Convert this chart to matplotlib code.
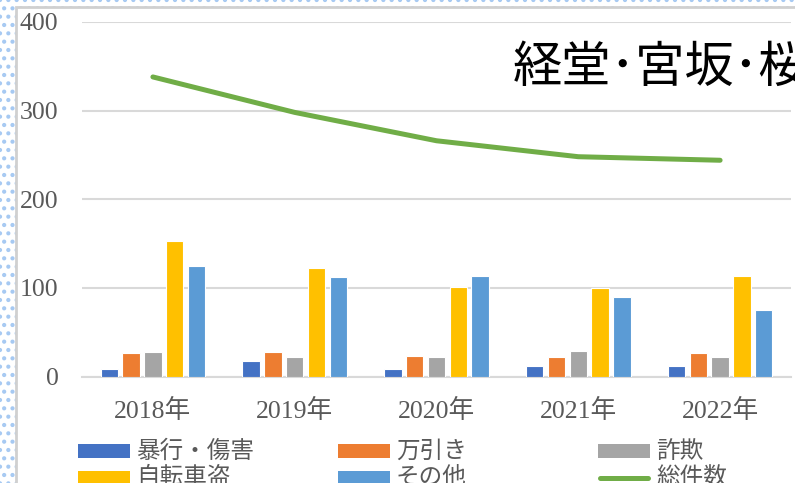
import matplotlib.pyplot as plt
import numpy as np
from matplotlib.patches import Rectangle
from matplotlib.lines import Line2D

# data
years = ["2018年", "2019年", "2020年", "2021年", "2022年"]
violence = [9, 18, 8, 12, 12]        # 暴行・傷害
shoplifting = [26, 28, 23, 22, 26]   # 万引き
fraud = [28, 22, 22, 29, 22]         # 詐欺
bicycle = [153, 122, 101, 100, 113]  # 自転車盗
other = [125, 112, 113, 90, 75]      # その他
total = [338, 298, 266, 248, 244]    # 総件数

bar_series = [violence, shoplifting, fraud, bicycle, other]
bar_names = ["暴行・傷害", "万引き", "詐欺", "自転車盗", "その他"]
bar_colors = ["#4472C4", "#ED7D31", "#A5A5A5", "#FFC000", "#5B9BD5"]
line_color = "#70AD47"

W, H = 795, 483
plt.rcParams["hatch.linewidth"] = 1.8
fig = plt.figure(figsize=(W / 100, H / 100), dpi=100)

def fx(px):
    return px / W

def fy(py):
    return 1 - py / H

# dotted blue pattern around the chart area
fig.patches.append(Rectangle((0, 0), 1, 1, transform=fig.transFigure,
                             facecolor="white", edgecolor="#a6c9f2",
                             hatch="..", linewidth=0, zorder=0))
fig.patches.append(Rectangle((fx(16), -0.1), 1.2, fy(7) + 0.1,
                             transform=fig.transFigure, facecolor="white",
                             edgecolor="#d0d0d0", linewidth=2, zorder=1))

serif = ["Liberation Serif", "Noto Sans CJK JP"]
jp = ["Noto Sans CJK JP", "DejaVu Sans"]
gray = "#595959"

ax = fig.add_axes([fx(82), fy(376.5), fx(791) - fx(82), fy(22) - fy(376.5)])
ax.set_zorder(3)
ax.set_facecolor("none")
x = np.arange(len(years))
pitch = 0.154
width = 0.123
for i, (vals, col) in enumerate(zip(bar_series, bar_colors)):
    ax.bar(x + (i - 2) * pitch, vals, width, color=col,
           edgecolor="white", linewidth=0.8, zorder=3)
ax.plot(x, total, color=line_color, linewidth=3.6,
        solid_capstyle="round", zorder=4)

ax.set_xlim(-0.5, 4.5)
ax.set_ylim(0, 400)
ax.set_yticks([0, 100, 200, 300, 400])
ax.set_xticks(x)
ax.set_xticklabels(years)
ax.grid(axis="y", color="#d9d9d9", linewidth=1.5, zorder=0)
for s in ["top", "right", "left"]:
    ax.spines[s].set_visible(False)
ax.spines["bottom"].set_color("#d9d9d9")
ax.spines["bottom"].set_linewidth(1.5)
ax.tick_params(length=0)
ax.tick_params(axis="y", pad=17)
ax.tick_params(axis="x", pad=16)
for lab in ax.get_xticklabels() + ax.get_yticklabels():
    lab.set_family(serif)
    lab.set_fontsize(18.5)
    lab.set_color(gray)

fig.text(fx(513), fy(68), "経堂･宮坂･桜", family=jp, fontsize=35.5,
         color="black", ha="left", va="center", zorder=5)

# legend laid out like Excel: 3 evenly spaced columns, 2 rows
names = bar_names + ["総件数"]
cols = [78, 338, 598]
rows = [451, 478]
for k, name in enumerate(names):
    cx = cols[k % 3]
    cy = rows[k // 3]
    if k < 5:
        fig.patches.append(Rectangle((fx(cx), fy(cy + 7)), fx(52), 14 / H,
                                     transform=fig.transFigure,
                                     facecolor=bar_colors[k], linewidth=0,
                                     zorder=2))
    else:
        fig.lines.append(Line2D([fx(cx + 2), fx(cx + 50)], [fy(cy), fy(cy)],
                                transform=fig.transFigure, color=line_color,
                                linewidth=3.6, solid_capstyle="round",
                                zorder=2))
    fig.text(fx(cx + 58), fy(cy), name, family=jp, fontsize=17,
             color=gray, ha="left", va="center", zorder=5)

fig.savefig("out.png", dpi=100)
